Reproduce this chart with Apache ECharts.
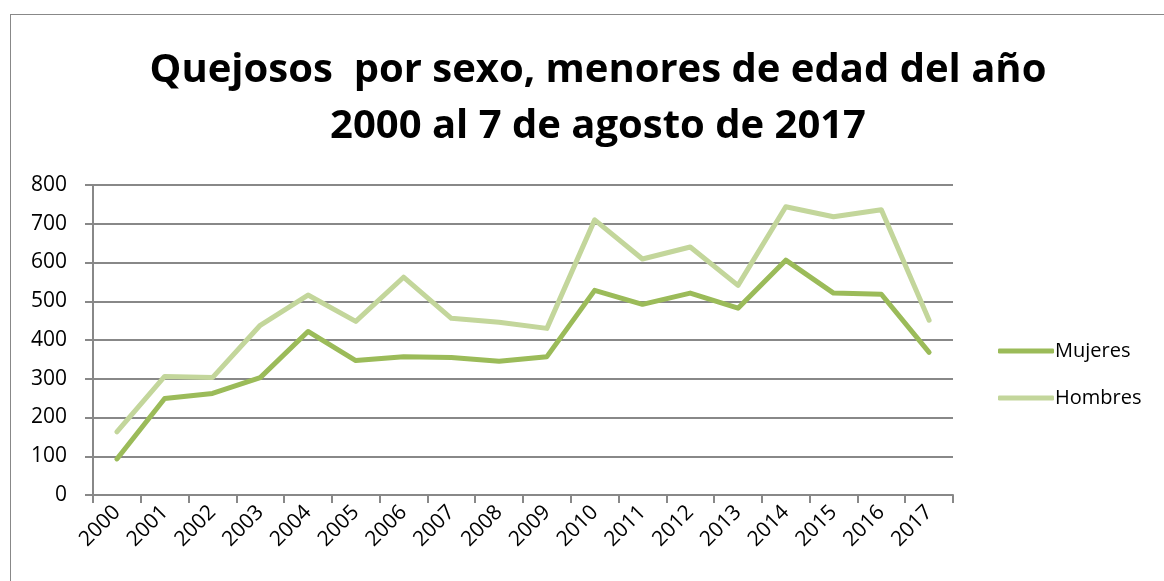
<!DOCTYPE html>
<html>
<head>
<meta charset="utf-8">
<script src="https://cdn.jsdelivr.net/npm/echarts@6/dist/echarts.min.js"></script>
<style>
  html, body { margin: 0; padding: 0; background: #fff; }
  #frame { position: absolute; left: 10px; top: 14px; width: 1160px; height: 580px; border: 1px solid #888; box-sizing: border-box; }
  #chart { position: absolute; left: 0; top: 0; width: 1164px; height: 581px; }
</style>
</head>
<body>
<div id="frame"></div>
<div id="chart"></div>
<script>
// categories and values
let years = ['2000','2001','2002','2003','2004','2005','2006','2007','2008',
             '2009','2010','2011','2012','2013','2014','2015','2016','2017'];
let mujeres = [93, 249, 262, 303, 422, 347, 357, 355, 345, 357, 528, 492, 521, 482, 606, 521, 518, 368];
let hombres = [163, 306, 303, 438, 516, 448, 562, 456, 446, 430, 710, 609, 640, 541, 744, 718, 736, 451];
let seriesNames = ['Mujeres', 'Hombres'];
let colors = ['#9BBB59', '#C3D69B'];

let chart = echarts.init(document.getElementById('chart'), null, {renderer: 'canvas'});
let font = 'Open Sans, Liberation Sans, sans-serif';

let option = {
    animation: false,
    title: {
        text: 'Quejosos  por sexo, menores de edad del año\n2000 al 7 de agosto de 2017',
        left: 593,
        textAlign: 'center',
        top: 38,
        textStyle: {fontFamily: font, fontSize: 40, fontWeight: 'bold', color: '#000', lineHeight: 56}
    },
    legend: {
        orient: 'vertical',
        left: 993,
        top: 336,
        itemWidth: 56,
        itemHeight: 5,
        itemGap: 27,
        icon: 'roundRect',
        data: seriesNames,
        textStyle: {fontFamily: font, fontSize: 20, color: '#000', padding: [0, 0, 0, -4]}
    },
    grid: {left: 93, right: 211, top: 185, bottom: 86},
    xAxis: {
        type: 'category',
        data: years,
        boundaryGap: true,
        axisLine: {lineStyle: {color: '#888', width: 2}},
        axisTick: {show: true, length: 8, lineStyle: {color: '#888', width: 2}},
        axisLabel: {rotate: 45, fontFamily: font, fontSize: 21, color: '#000', margin: 14, interval: 0}
    },
    yAxis: {
        type: 'value',
        min: 0,
        max: 800,
        interval: 100,
        axisLine: {show: true, lineStyle: {color: '#888', width: 2}},
        axisTick: {show: true, length: 8, lineStyle: {color: '#888', width: 2}},
        splitLine: {lineStyle: {color: '#888', width: 2}},
        axisLabel: {fontFamily: font, fontSize: 21, color: '#000', margin: 26}
    },
    series: [
        {
            name: seriesNames[0],
            type: 'line',
            data: mujeres,
            symbol: 'none',
            color: colors[0],
            lineStyle: {width: 5, color: colors[0], cap: 'round', join: 'round'}
        },
        {
            name: seriesNames[1],
            type: 'line',
            data: hombres,
            symbol: 'none',
            color: colors[1],
            z: 1,
            lineStyle: {width: 5, color: colors[1], cap: 'round', join: 'round'}
        }
    ]
};
chart.setOption(option);
</script>
</body>
</html>
